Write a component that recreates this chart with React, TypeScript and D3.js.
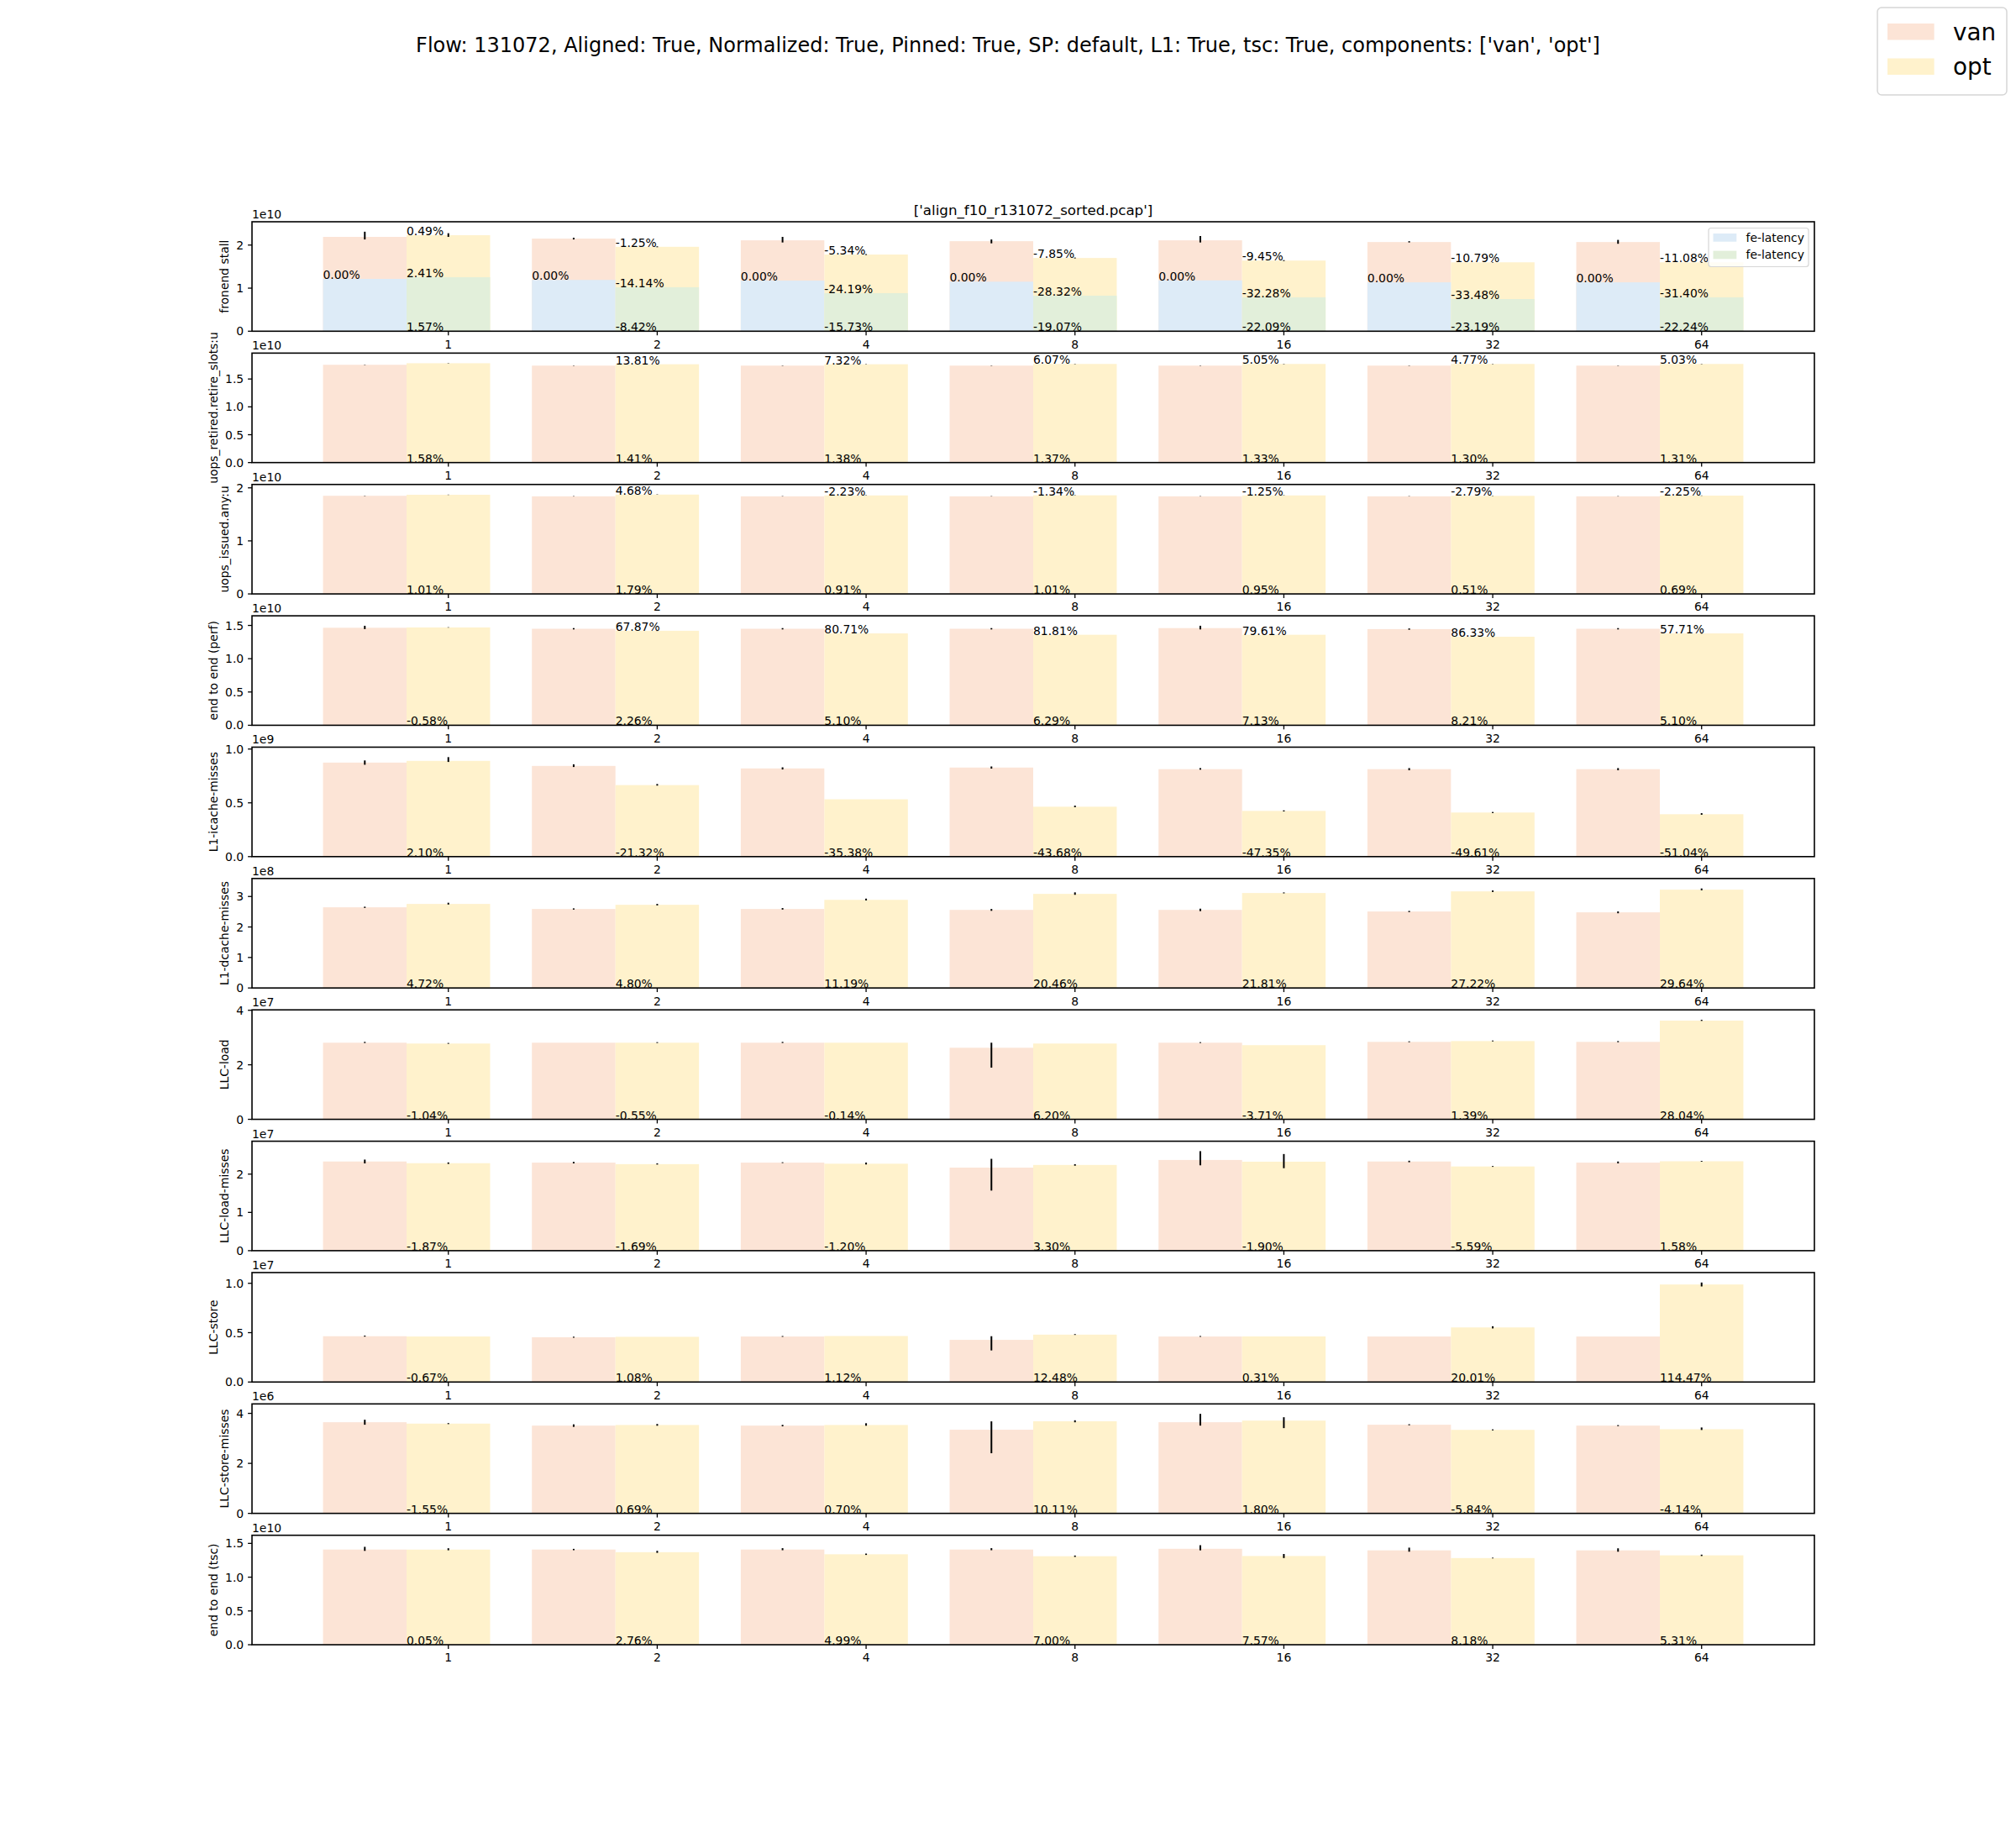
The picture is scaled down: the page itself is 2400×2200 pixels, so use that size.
import React from "react";
import * as d3 from "d3";

// x categories (flow batch sizes)
const categories = ["1", "2", "4", "8", "16", "32", "64"];

const suptitle =
  "Flow: 131072, Aligned: True, Normalized: True, Pinned: True, SP: default, L1: True, tsc: True, components: ['van', 'opt']";
const subtitle = "['align_f10_r131072_sorted.pcap']";

const metricNames = [
  "fronend stall",
  "uops_retired.retire_slots:u",
  "uops_issued.any:u",
  "end to end (perf)",
  "L1-icache-misses",
  "L1-dcache-misses",
  "LLC-load",
  "LLC-load-misses",
  "LLC-store",
  "LLC-store-misses",
  "end to end (tsc)",
];
const offsetTexts = ["1e10", "1e10", "1e10", "1e10", "1e9", "1e8", "1e7", "1e7", "1e7", "1e6", "1e10"];

const yTickLabels = [
  ["0", "1", "2"],
  ["0.0", "0.5", "1.0", "1.5"],
  ["0", "1", "2"],
  ["0.0", "0.5", "1.0", "1.5"],
  ["0.0", "0.5", "1.0"],
  ["0", "1", "2", "3"],
  ["0", "2", "4"],
  ["0", "1", "2"],
  ["0.0", "0.5", "1.0"],
  ["0", "2", "4"],
  ["0.0", "0.5", "1.0", "1.5"],
];

// fronend stall (x1e10)
const stallVan = [2.19, 2.15, 2.11, 2.09, 2.11, 2.07, 2.07];
const stallOpt = [2.23, 1.96, 1.78, 1.7, 1.64, 1.6, 1.6];
const stallVanErr = [[0.06, 0.12], [0.02, 0.02], [0.05, 0.08], [0.05, 0.04], [0.05, 0.1], [0.01, 0.02], [0.04, 0.05]];
const stallOptErr = [[0.04, 0.045], [0.01, 0.01], [0.01, 0.01], [0.01, 0.01], [0.01, 0.01], [0.005, 0.005], [0.01, 0.01]];
const feLatVan = [1.215, 1.19, 1.175, 1.15, 1.18, 1.135, 1.135];
const feLatOpt = [1.253, 1.02, 0.883, 0.825, 0.786, 0.747, 0.786];
const stallTop = ["0.49%", "-1.25%", "-5.34%", "-7.85%", "-9.45%", "-10.79%", "-11.08%"];
const feLatVanLabels = ["0.00%", "0.00%", "0.00%", "0.00%", "0.00%", "0.00%", "0.00%"];
const feLatOptLabels = ["2.41%", "-14.14%", "-24.19%", "-28.32%", "-32.28%", "-33.48%", "-31.40%"];
const stallBottom = ["1.57%", "-8.42%", "-15.73%", "-19.07%", "-22.09%", "-23.19%", "-22.24%"];

// uops_retired.retire_slots:u (x1e10)
const retiredVan = [1.755, 1.74, 1.74, 1.74, 1.74, 1.74, 1.74];
const retiredOpt = [1.783, 1.765, 1.765, 1.77, 1.77, 1.77, 1.77];
const retiredTop = [null, "13.81%", "7.32%", "6.07%", "5.05%", "4.77%", "5.03%"];
const retiredBottom = ["1.58%", "1.41%", "1.38%", "1.37%", "1.33%", "1.30%", "1.31%"];

// uops_issued.any:u (x1e10)
const issuedVan = [1.85, 1.84, 1.84, 1.84, 1.84, 1.84, 1.84];
const issuedOpt = [1.869, 1.873, 1.857, 1.859, 1.857, 1.849, 1.853];
const issuedTop = [null, "4.68%", "-2.23%", "-1.34%", "-1.25%", "-2.79%", "-2.25%"];
const issuedBottom = ["1.01%", "1.79%", "0.91%", "1.01%", "0.95%", "0.51%", "0.69%"];

// end to end (perf) (x1e10)
const perfVan = [1.465, 1.45, 1.45, 1.45, 1.46, 1.445, 1.45];
const perfOpt = [1.47, 1.42, 1.38, 1.36, 1.36, 1.33, 1.38];
const perfVanErr = [[0.02, 0.03], [0.01, 0.01], [0.01, 0.01], [0.01, 0.01], [0.02, 0.035], [0.01, 0.01], [0.01, 0.01]];
const perfTop = [null, "67.87%", "80.71%", "81.81%", "79.61%", "86.33%", "57.71%"];
const perfBottom = ["-0.58%", "2.26%", "5.10%", "6.29%", "7.13%", "8.21%", "5.10%"];

// L1-icache-misses (x1e9)
const icacheVan = [0.874, 0.843, 0.82, 0.828, 0.813, 0.813, 0.813];
const icacheOpt = [0.89, 0.665, 0.533, 0.464, 0.425, 0.41, 0.394];
const icacheVanErr = [[0.02, 0.02], [0.01, 0.015], [0.01, 0.01], [0.01, 0.01], [0.005, 0.01], [0.01, 0.01], [0.01, 0.01]];
const icacheOptErr = [[0.01, 0.035], [0.005, 0.01], [0, 0], [0.005, 0.01], [0.005, 0.005], [0.005, 0.005], [0.005, 0.01]];
const icacheBottom = ["2.10%", "-21.32%", "-35.38%", "-43.68%", "-47.35%", "-49.61%", "-51.04%"];

// L1-dcache-misses (x1e8)
const dcacheVan = [2.645, 2.59, 2.59, 2.56, 2.56, 2.507, 2.48];
const dcacheOpt = [2.755, 2.727, 2.89, 3.085, 3.113, 3.168, 3.223];
const dcacheVanErr = [[0.02, 0.02], [0.02, 0.02], [0.02, 0.03], [0.03, 0.03], [0.04, 0.04], [0.02, 0.02], [0.03, 0.03]];
const dcacheOptErr = [[0.02, 0.04], [0.02, 0.03], [0.02, 0.04], [0.03, 0.05], [0.01, 0.02], [0.02, 0.03], [0.02, 0.04]];
const dcacheBottom = ["4.72%", "4.80%", "11.19%", "20.46%", "21.81%", "27.22%", "29.64%"];

// LLC-load (x1e7)
const loadVan = [2.81, 2.81, 2.81, 2.625, 2.81, 2.84, 2.84];
const loadOpt = [2.78, 2.81, 2.81, 2.78, 2.72, 2.87, 3.62];
const loadVanErr = [[0.01, 0.03], [0, 0], [0.01, 0.03], [0.73, 0.185], [0.01, 0.02], [0.01, 0.02], [0.01, 0.03]];
const loadOptErr = [[0.01, 0.02], [0.01, 0.02], [0, 0], [0, 0], [0, 0], [0.01, 0.02], [0.01, 0.03]];
const loadBottom = ["-1.04%", "-0.55%", "-0.14%", "6.20%", "-3.71%", "1.39%", "28.04%"];

// LLC-load-misses (x1e7)
const loadMissVan = [2.33, 2.3, 2.3, 2.17, 2.37, 2.33, 2.3];
const loadMissOpt = [2.286, 2.261, 2.272, 2.24, 2.325, 2.2, 2.336];
const loadMissVanErr = [[0.05, 0.05], [0.02, 0.02], [0.01, 0.01], [0.6, 0.23], [0.14, 0.23], [0.02, 0.02], [0.02, 0.03]];
const loadMissOptErr = [[0.02, 0.02], [0.01, 0.02], [0.02, 0.03], [0.02, 0.02], [0.17, 0.2], [0.01, 0.01], [0.01, 0.01]];
const loadMissBottom = ["-1.87%", "-1.69%", "-1.20%", "3.30%", "-1.90%", "-5.59%", "1.58%"];

// LLC-store (x1e7)
const storeVan = [0.464, 0.453, 0.461, 0.427, 0.461, 0.461, 0.461];
const storeOpt = [0.461, 0.458, 0.466, 0.48, 0.462, 0.553, 0.988];
const storeVanErr = [[0.004, 0.006], [0.004, 0.006], [0.003, 0.005], [0.107, 0.037], [0.003, 0.005], [0, 0], [0, 0]];
const storeOptErr = [[0, 0], [0, 0], [0, 0], [0.003, 0.005], [0, 0], [0.01, 0.012], [0.02, 0.02]];
const storeBottom = ["-0.67%", "1.08%", "1.12%", "12.48%", "0.31%", "20.01%", "114.47%"];

// LLC-store-misses (x1e6)
const storeMissVan = [3.645, 3.51, 3.51, 3.345, 3.645, 3.545, 3.51];
const storeMissOpt = [3.59, 3.535, 3.535, 3.683, 3.71, 3.34, 3.365];
const storeMissVanErr = [[0.1, 0.1], [0.05, 0.05], [0.03, 0.03], [0.94, 0.335], [0.135, 0.335], [0.02, 0.02], [0.02, 0.02]];
const storeMissOptErr = [[0.02, 0.02], [0.03, 0.04], [0.03, 0.07], [0.04, 0.04], [0.3, 0.135], [0.02, 0.02], [0.03, 0.07]];
const storeMissBottom = ["-1.55%", "0.69%", "0.70%", "10.11%", "1.80%", "-5.84%", "-4.14%"];

// end to end (tsc) (x1e10)
const tscVan = [1.409, 1.409, 1.409, 1.409, 1.42, 1.397, 1.397];
const tscOpt = [1.408, 1.37, 1.339, 1.31, 1.313, 1.283, 1.323];
const tscVanErr = [[0.02, 0.04], [0.01, 0.01], [0.01, 0.02], [0.01, 0.02], [0.023, 0.053], [0.02, 0.04], [0.02, 0.03]];
const tscOptErr = [[0.01, 0.02], [0.01, 0.02], [0.01, 0.01], [0.01, 0.01], [0.03, 0.03], [0.005, 0.005], [0.01, 0.01]];
const tscBottom = ["0.05%", "2.76%", "4.99%", "7.00%", "7.57%", "8.18%", "5.31%"];

const zeroErr = categories.map(() => [0.003, 0.003]);

const COLORS = { van: "#FCE4D6", opt: "#FFF2CC", feVan: "#DDEBF7", feOpt: "#E2EFDA" };

const panels = [
  { van: stallVan, opt: stallOpt, vanErr: stallVanErr, optErr: stallOptErr, top: stallTop, bottom: stallBottom },
  { van: retiredVan, opt: retiredOpt, vanErr: zeroErr, optErr: zeroErr, top: retiredTop, bottom: retiredBottom },
  { van: issuedVan, opt: issuedOpt, vanErr: zeroErr, optErr: zeroErr, top: issuedTop, bottom: issuedBottom },
  { van: perfVan, opt: perfOpt, vanErr: perfVanErr, optErr: zeroErr, top: perfTop, bottom: perfBottom },
  { van: icacheVan, opt: icacheOpt, vanErr: icacheVanErr, optErr: icacheOptErr, top: null, bottom: icacheBottom },
  { van: dcacheVan, opt: dcacheOpt, vanErr: dcacheVanErr, optErr: dcacheOptErr, top: null, bottom: dcacheBottom },
  { van: loadVan, opt: loadOpt, vanErr: loadVanErr, optErr: loadOptErr, top: null, bottom: loadBottom },
  { van: loadMissVan, opt: loadMissOpt, vanErr: loadMissVanErr, optErr: loadMissOptErr, top: null, bottom: loadMissBottom },
  { van: storeVan, opt: storeOpt, vanErr: storeVanErr, optErr: storeOptErr, top: null, bottom: storeBottom },
  { van: storeMissVan, opt: storeMissOpt, vanErr: storeMissVanErr, optErr: storeMissOptErr, top: null, bottom: storeMissBottom },
  { van: tscVan, opt: tscOpt, vanErr: tscVanErr, optErr: tscOptErr, top: null, bottom: tscBottom },
];

// figure geometry (matplotlib-like subplot params)
const W = 2400;
const H = 2200;
const LEFT = 0.125 * W;
const RIGHT = 0.9 * W;
const TOP = 0.12 * H;
const BOTTOM = 0.89 * H;
const NROWS = metricNames.length;
const AX_H = (BOTTOM - TOP) / (NROWS + (NROWS - 1) * 0.2);
const GAP = AX_H * 0.2;
const FS = 13.9;
const TICK = 4.9;
const BAR_W = 0.4;
const FONT = "DejaVu Sans, sans-serif";

const charW = (s: string) =>
  s.split("").reduce((a, c) => a + (c === "." ? 0.318 : 0.636), 0) * FS;

export default function App() {
  const idx = categories.map((_, i) => i);
  const lo = -BAR_W - BAR_W / 2;
  const hi = idx.length - 1 + BAR_W / 2;
  const pad = (hi - lo) * 0.05;
  const x = d3.scaleLinear().domain([lo - pad, hi + pad]).range([LEFT, RIGHT]);
  const bw = x(BAR_W) - x(0);

  return (
    <svg
      width={W}
      height={H}
      style={{ position: "absolute", left: 0, top: 0, background: "#fff" }}
      fontFamily={FONT}
    >
      <rect width={W} height={H} fill="#fff" />
      <text x={W / 2} y={62} textAnchor="middle" fontSize={24}>
        {suptitle}
      </text>

      {/* figure legend */}
      <g>
        <rect x={2235} y={9} width={154} height={104} rx={5} fill="#fff" stroke="#d6d6d6" strokeWidth={1.5} />
        {[["van", COLORS.van], ["opt", COLORS.opt]].map(([lab, col], k) => (
          <g key={lab}>
            <rect x={2247} y={28 + k * 41.5} width={55.6} height={19.5} fill={col} />
            <text x={2325} y={47.5 + k * 41.5} fontSize={27.8}>
              {lab}
            </text>
          </g>
        ))}
      </g>

      {panels.map((p, pi) => {
        const top = TOP + pi * (AX_H + GAP);
        const bottom = top + AX_H;
        const maxV = d3.max([
          ...p.van.map((v, i) => v + p.vanErr[i][1]),
          ...p.opt.map((v, i) => v + p.optErr[i][1]),
        ]) as number;
        const y = d3.scaleLinear().domain([0, maxV * 1.1]).range([bottom, top]);
        const tickLabs = yTickLabels[pi];
        const tickVals = tickLabs.map(Number);
        const maxTickW = d3.max(tickLabs, charW) as number;
        const ylabX = LEFT - 2 * TICK - maxTickW - 5.6 - 0.236 * FS;
        return (
          <g key={pi}>
            {/* bars */}
            {idx.map((i) => (
              <g key={i}>
                <rect x={x(i - BAR_W - BAR_W / 2)} y={y(p.van[i])} width={bw} height={bottom - y(p.van[i])} fill={COLORS.van} />
                <rect x={x(i - BAR_W / 2)} y={y(p.opt[i])} width={bw} height={bottom - y(p.opt[i])} fill={COLORS.opt} />
              </g>
            ))}
            {pi === 0 &&
              idx.map((i) => (
                <g key={"fe" + i}>
                  <rect x={x(i - BAR_W - BAR_W / 2)} y={y(feLatVan[i])} width={bw} height={bottom - y(feLatVan[i])} fill={COLORS.feVan} />
                  <rect x={x(i - BAR_W / 2)} y={y(feLatOpt[i])} width={bw} height={bottom - y(feLatOpt[i])} fill={COLORS.feOpt} />
                </g>
              ))}
            {/* error bars */}
            {idx.map((i) => (
              <g key={"e" + i} stroke="#000" strokeWidth={2}>
                <line x1={x(i - BAR_W)} x2={x(i - BAR_W)} y1={y(p.van[i] - p.vanErr[i][0])} y2={y(p.van[i] + p.vanErr[i][1])} />
                <line x1={x(i)} x2={x(i)} y1={y(p.opt[i] - p.optErr[i][0])} y2={y(p.opt[i] + p.optErr[i][1])} />
              </g>
            ))}
            {/* value labels */}
            <g fontSize={FS} fill="#000">
              {idx.map((i) => (
                <g key={"t" + i}>
                  {p.top && p.top[i] && (
                    <text x={x(i - BAR_W / 2)} y={y(p.opt[i])}>
                      {p.top[i]}
                    </text>
                  )}
                  <text x={x(i - BAR_W / 2)} y={y(0)}>
                    {p.bottom[i]}
                  </text>
                  {pi === 0 && (
                    <>
                      <text x={x(i - BAR_W - BAR_W / 2)} y={y(feLatVan[i])}>
                        {feLatVanLabels[i]}
                      </text>
                      <text x={x(i - BAR_W / 2)} y={y(feLatOpt[i])}>
                        {feLatOptLabels[i]}
                      </text>
                    </>
                  )}
                </g>
              ))}
            </g>
            {/* axes frame */}
            <rect x={LEFT} y={top} width={RIGHT - LEFT} height={AX_H} fill="none" stroke="#000" strokeWidth={1.6} />
            {/* y ticks */}
            {tickVals.map((t, k) => (
              <g key={"yt" + k}>
                <line x1={LEFT - TICK} x2={LEFT} y1={y(t)} y2={y(t)} stroke="#000" strokeWidth={1.3} />
                <text x={LEFT - 2 * TICK} y={y(t)} dy="0.36em" textAnchor="end" fontSize={FS}>
                  {tickLabs[k]}
                </text>
              </g>
            ))}
            {/* x ticks */}
            {idx.map((i) => (
              <g key={"xt" + i}>
                <line x1={x(i)} x2={x(i)} y1={bottom} y2={bottom + TICK} stroke="#000" strokeWidth={1.3} />
                <text x={x(i)} y={bottom + 2 * TICK + 0.76 * FS} textAnchor="middle" fontSize={FS}>
                  {categories[i]}
                </text>
              </g>
            ))}
            <text x={LEFT} y={top - 4} fontSize={FS}>
              {offsetTexts[pi]}
            </text>
            <text
              transform={`translate(${ylabX},${(top + bottom) / 2}) rotate(-90)`}
              textAnchor="middle"
              fontSize={FS}
            >
              {metricNames[pi]}
            </text>
            {pi === 0 && (
              <>
                <text x={(LEFT + RIGHT) / 2} y={top - 8.3} textAnchor="middle" fontSize={16.7}>
                  {subtitle}
                </text>
                <g>
                  <rect x={2034} y={271.5} width={119} height={46} rx={3} fill="#fff" fillOpacity={0.8} stroke="#d6d6d6" strokeWidth={1.2} />
                  {[COLORS.feVan, COLORS.feOpt].map((c, k) => (
                    <g key={k}>
                      <rect x={2039.5} y={278 + k * 20.6} width={27.8} height={9.7} fill={c} />
                      <text x={2078.5} y={287.7 + k * 20.6} fontSize={FS}>
                        fe-latency
                      </text>
                    </g>
                  ))}
                </g>
              </>
            )}
          </g>
        );
      })}
    </svg>
  );
}
